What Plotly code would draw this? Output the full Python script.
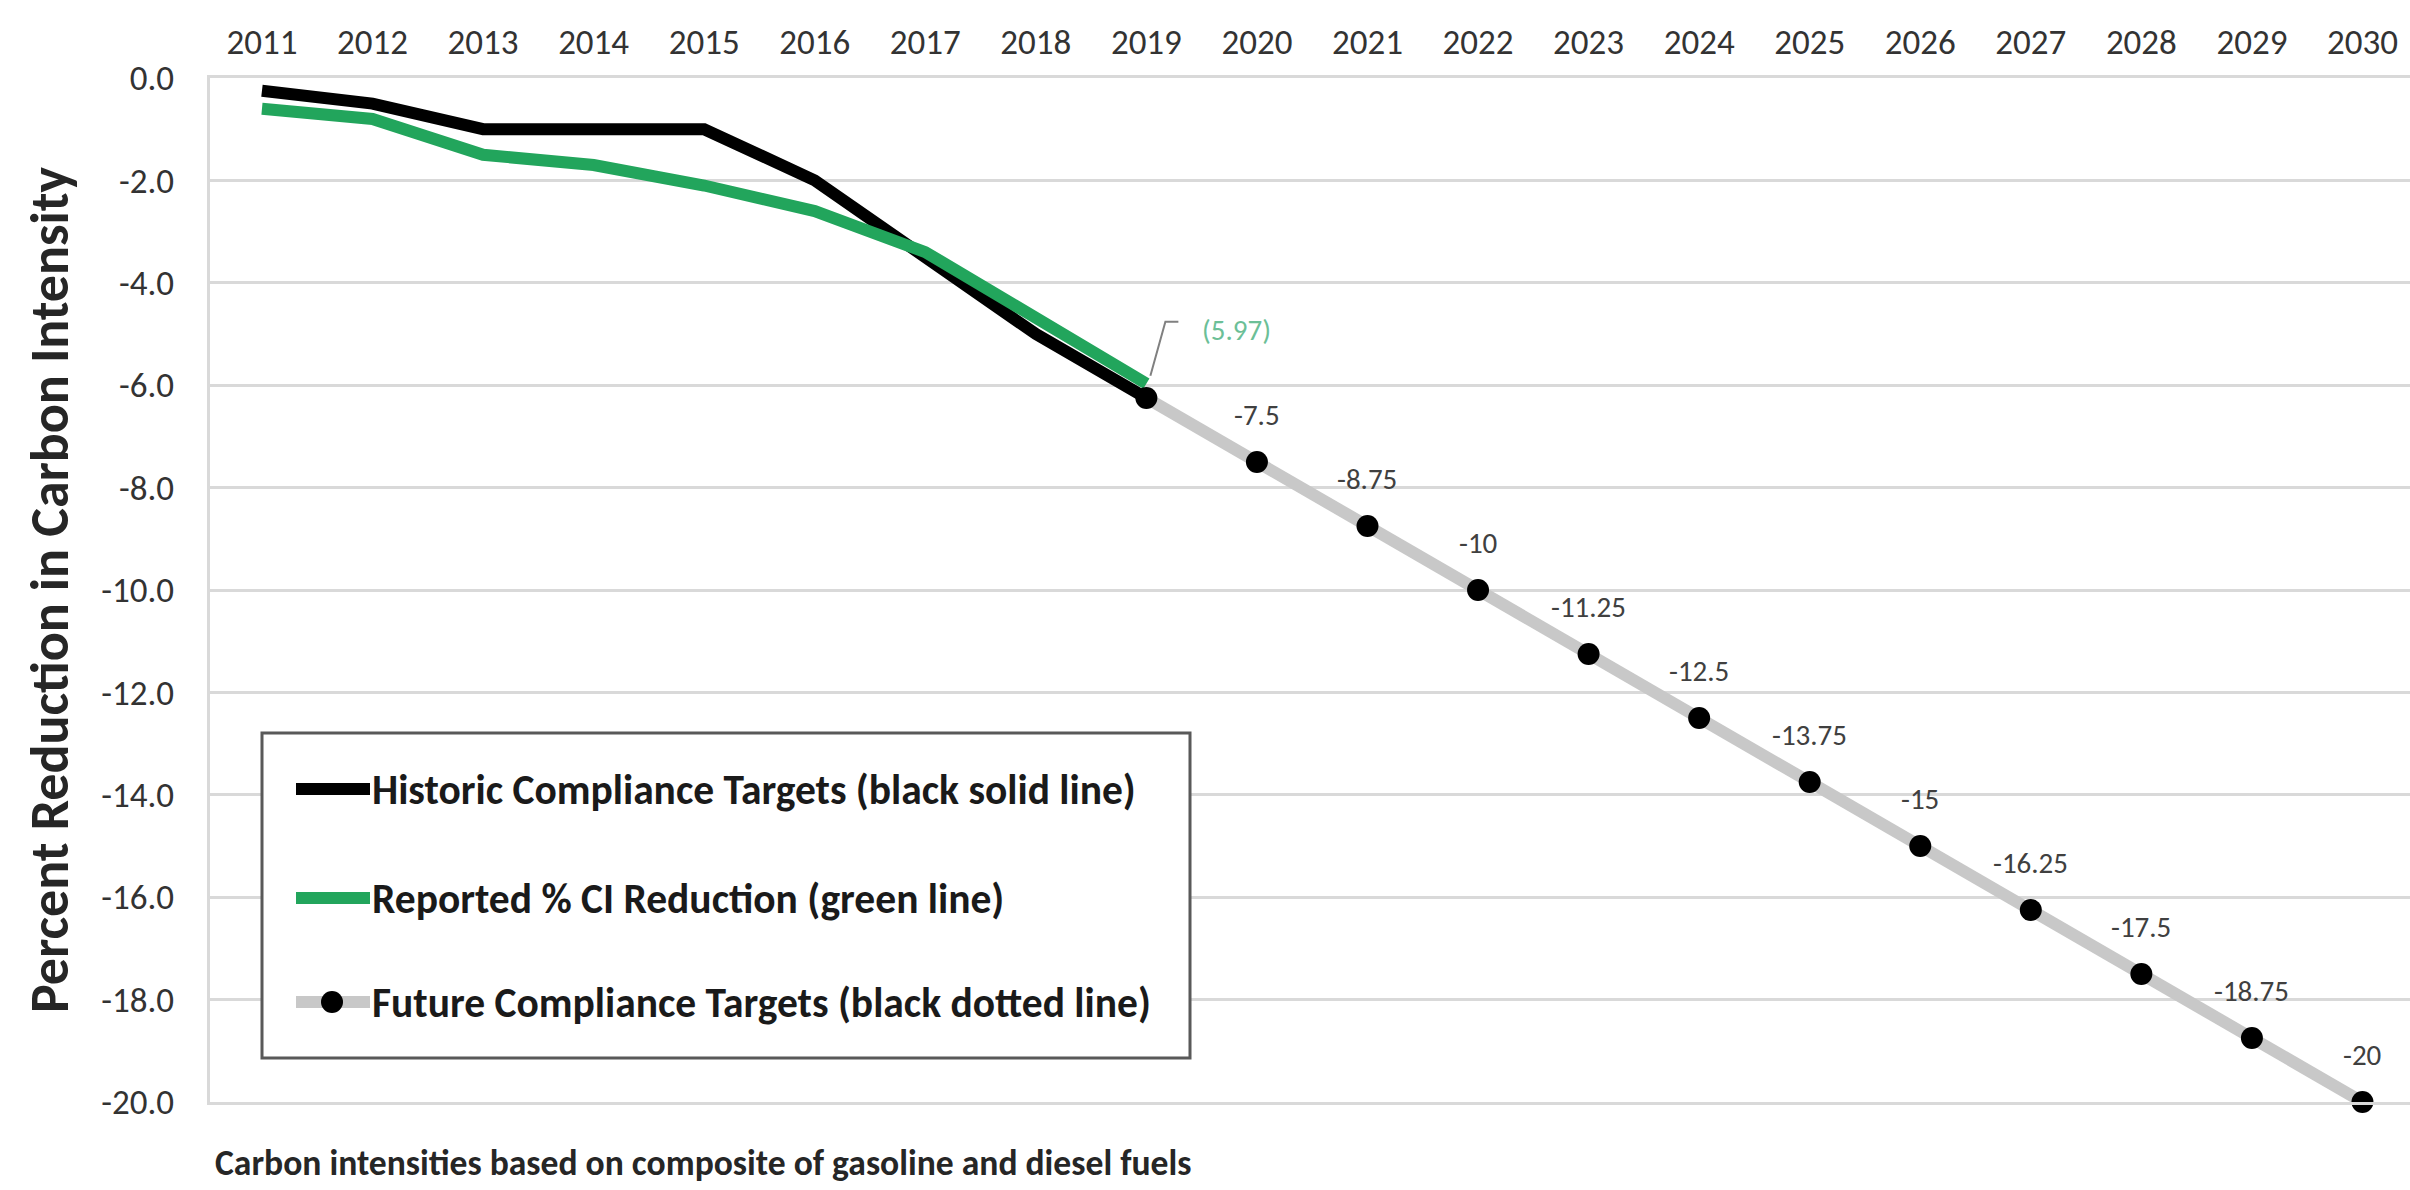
import plotly.graph_objects as go

# ---- data ----
years = list(range(2011, 2031))
hist_years = list(range(2011, 2020))
historic = [-0.25, -0.5, -1.0, -1.0, -1.0, -2.0, -3.5, -5.0, -6.25]
reported = [-0.6, -0.8, -1.5, -1.7, -2.1, -2.6, -3.4, -4.7, -5.97]
future_years = list(range(2019, 2031))
future = [-6.25, -7.5, -8.75, -10.0, -11.25, -12.5, -13.75, -15.0,
          -16.25, -17.5, -18.75, -20.0]
y_ticks = [0, -2, -4, -6, -8, -10, -12, -14, -16, -18, -20]

legend_labels = [
    "Historic Compliance Targets (black solid line)",
    "Reported % CI Reduction (green line)",
    "Future Compliance Targets (black dotted line)",
]
note = "Carbon intensities based on composite of gasoline and diesel fuels"
y_title = "Percent Reduction in Carbon Intensity"

# ---- styling ----
W, H = 2410, 1190
L, R, T, B = 210, 0, 78, 88
FONT = "Calibri, Carlito, Lato, sans-serif"
BLACK = "#000000"
GREEN = "#22a55c"
GRAY_LINE = "#c8c8c8"
GRID = "#d9d9d9"
TEXT = "#333333"


def px(x):
    return (x - L) / (W - L - R)


def py(y):
    return (H - B - y) / (H - T - B)


fig = go.Figure()

fig.add_trace(go.Scatter(
    x=hist_years, y=historic, mode="lines",
    line=dict(color=BLACK, width=12), showlegend=False,
    name=legend_labels[0]))
fig.add_trace(go.Scatter(
    x=hist_years, y=reported, mode="lines",
    line=dict(color=GREEN, width=12), showlegend=False,
    name=legend_labels[1]))
fig.add_trace(go.Scatter(
    x=future_years, y=future, mode="lines+markers",
    line=dict(color=GRAY_LINE, width=12),
    marker=dict(color=BLACK, size=22), cliponaxis=False,
    showlegend=False, name=legend_labels[2]))

annotations = []
# value labels above the future targets
for yr, v in zip(future_years[1:], future[1:]):
    annotations.append(dict(
        x=yr, y=v, xref="x", yref="y", text=f"{v:g}", showarrow=False,
        yshift=47, font=dict(family=FONT, size=29, color="#404040")))

# label for the latest reported value
annotations.append(dict(
    x=hist_years[-1], y=reported[-1], xref="x", yref="y",
    text=f"({abs(reported[-1]):.2f})", showarrow=False,
    xshift=90, yshift=54, font=dict(family=FONT, size=29, color="#6cbf97")))

# y-axis title
annotations.append(dict(
    x=px(50), y=0.5, xref="paper", yref="paper", text=f"<b>{y_title}</b>",
    textangle=-90, showarrow=False, xanchor="center", yanchor="middle",
    font=dict(family=FONT, size=54, color="#262626")))

# footnote
annotations.append(dict(
    x=px(213), y=py(1163), xref="paper", yref="paper", text=f"<b>{note}</b>",
    showarrow=False, xanchor="left", yanchor="middle",
    font=dict(family=FONT, size=35.6, color="#262626")))

# legend box
rows = [789, 898, 1002]
shapes = [dict(type="rect", xref="paper", yref="paper",
               x0=px(262), x1=px(1190), y0=py(1058), y1=py(733),
               line=dict(color="#595959", width=3), fillcolor="white")]
sym_colors = [BLACK, GREEN, GRAY_LINE]
for ry, col, lab in zip(rows, sym_colors, legend_labels):
    shapes.append(dict(type="line", xref="paper", yref="paper",
                       x0=px(296), x1=px(370), y0=py(ry), y1=py(ry),
                       line=dict(color=col, width=12)))
    annotations.append(dict(
        x=px(370), y=py(ry), xref="paper", yref="paper", text=f"<b>{lab}</b>",
        showarrow=False, xanchor="left", yanchor="middle",
        font=dict(family=FONT, size=41.5, color="#1a1a1a")))
shapes.append(dict(type="circle", xref="paper", yref="paper",
                   x0=px(321), x1=px(343), y0=py(rows[2] + 11),
                   y1=py(rows[2] - 11),
                   line=dict(width=0), fillcolor=BLACK))

# leader line for the reported value label
shapes.append(dict(type="path", xref="x", yref="y",
                   xsizemode="pixel", ysizemode="pixel",
                   xanchor=hist_years[-1], yanchor=reported[-1],
                   path="M 4,8 L 19,62 L 32,62",
                   line=dict(color="#808080", width=2)))

fig.update_layout(
    width=W, height=H,
    margin=dict(l=L, r=R, t=T, b=B),
    paper_bgcolor="white", plot_bgcolor="white",
    font=dict(family=FONT, color=TEXT),
    showlegend=False,
    annotations=annotations, shapes=shapes,
    xaxis=dict(
        range=[2010.53, 2030.43], side="top", tickmode="array",
        tickvals=years, ticktext=[str(y) for y in years],
        showgrid=False, zeroline=False, ticks="",
        showline=True, mirror=True, linecolor=GRID, linewidth=3,
        tickfont=dict(family=FONT, size=35, color=TEXT),
        ticklabelstandoff=7),
    yaxis=dict(
        range=[-20, 0], tickmode="array", tickvals=y_ticks,
        ticktext=[f"{v:.1f}" for v in y_ticks],
        showgrid=True, gridcolor=GRID, gridwidth=3, zeroline=False,
        ticks="", showline=True, linecolor=GRID, linewidth=3,
        tickfont=dict(family=FONT, size=35, color=TEXT),
        ticklabelstandoff=26),
)

fig.write_html("out.html")
